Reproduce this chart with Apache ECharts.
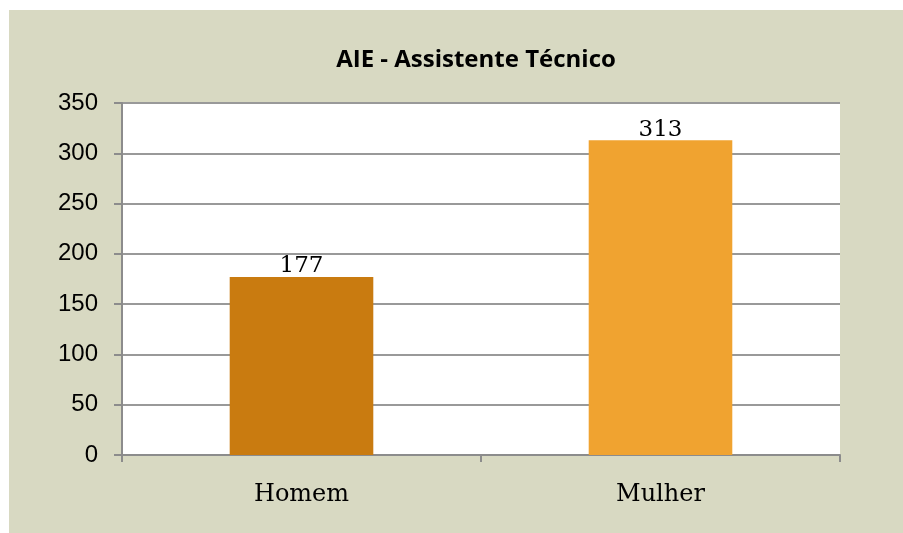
<!DOCTYPE html>
<html>
<head>
    <meta charset="utf-8" />
    <title>AIE - Assistente Técnico</title>
    <script src="https://cdn.jsdelivr.net/npm/echarts@6/dist/echarts.min.js"></script>
    <style>
        html, body { margin: 0; padding: 0; background: #ffffff; }
    </style>
</head>
<body>
    <div id="main" style="width: 903px;height:533px;"></div>
    <script type="text/javascript">
        const categories = ['Homem', 'Mulher'];
        const values = [177, 313];
        const barColors = ['#C97B10', '#F0A330'];

        let myChart = echarts.init(document.getElementById('main'));

        let option = {
            backgroundColor: '#ffffff',
            animation: false,
            graphic: [{
                type: 'rect',
                z: -10,
                shape: { x: 9, y: 10, width: 894, height: 523 },
                style: { fill: '#D8D9C2' }
            }],
            title: {
                text: 'AIE - Assistente Técnico',
                left: 471,
                textAlign: 'center',
                top: 43,
                textStyle: {
                    fontFamily: 'Open Sans',
                    fontWeight: 'bold',
                    fontSize: 24,
                    color: '#000'
                }
            },
            grid: {
                left: 122,
                right: 63,
                top: 103,
                bottom: 78,
                show: true,
                backgroundColor: '#ffffff',
                borderWidth: 0
            },
            xAxis: {
                type: 'category',
                data: categories,
                axisLine: { lineStyle: { color: '#8c8c8c', width: 2 } },
                axisTick: { show: true, length: 7, lineStyle: { color: '#8c8c8c', width: 2 } },
                axisLabel: {
                    fontFamily: 'DejaVu Serif',
                    fontSize: 24,
                    color: '#000',
                    margin: 28
                }
            },
            yAxis: {
                type: 'value',
                min: 0,
                max: 350,
                interval: 50,
                axisLine: { show: true, lineStyle: { color: '#8c8c8c', width: 2 } },
                axisTick: { show: true, length: 8, lineStyle: { color: '#8c8c8c', width: 2 } },
                splitLine: { lineStyle: { color: '#999999', width: 2 } },
                axisLabel: {
                    fontFamily: 'Liberation Sans',
                    fontSize: 24,
                    color: '#000',
                    margin: 24
                }
            },
            series: [{
                type: 'bar',
                barWidth: '40%',
                data: values.map((v, i) => ({ value: v, itemStyle: { color: barColors[i] } })),
                label: {
                    show: true,
                    position: 'top',
                    distance: -1,
                    fontFamily: 'DejaVu Serif',
                    fontSize: 23,
                    color: '#000'
                }
            }]
        };

        myChart.setOption(option);
    </script>
</body>
</html>
